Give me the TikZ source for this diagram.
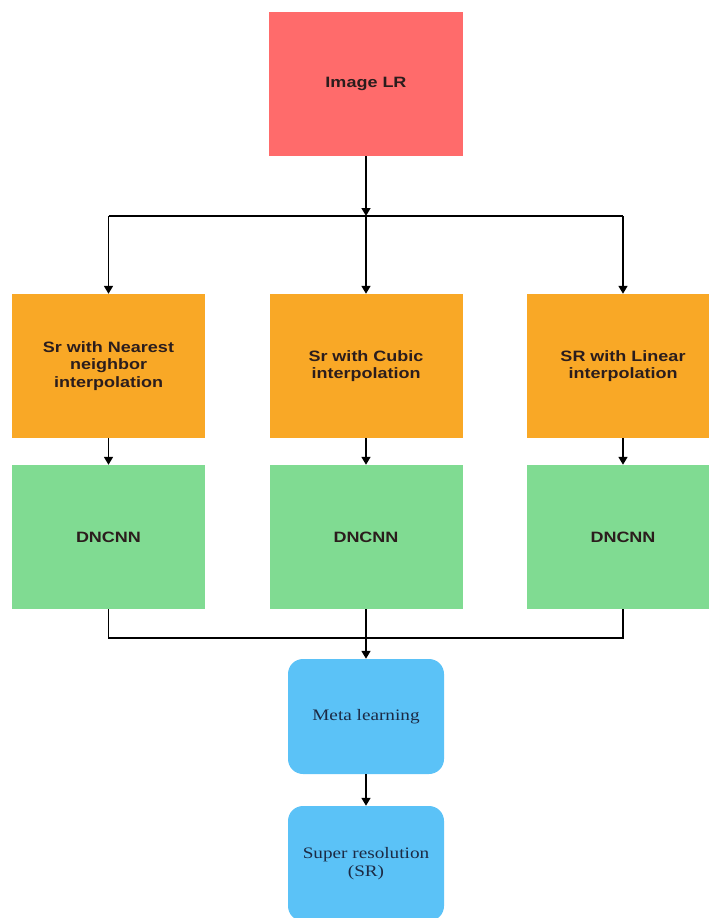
\documentclass[tikz,border=0pt]{standalone}
\usepackage{fontspec}
\setmainfont{Liberation Serif}[FakeStretch=1.2]
\newfontfamily\boxfont{Liberation Sans}[FakeStretch=1.2]
\usetikzlibrary{arrows.meta}

\definecolor{lrred}{HTML}{FF6B6B}
\definecolor{interporange}{HTML}{F9A826}
\definecolor{dngreen}{HTML}{80DB92}
\definecolor{metablue}{HTML}{5BC2F7}
\definecolor{boxtext}{HTML}{2B1D1D}
\definecolor{serftext}{HTML}{1C2A44}

\begin{document}
\begin{tikzpicture}[x=1pt,y=-1pt,
  box/.style={minimum width=193pt, minimum height=144pt, inner sep=0pt, align=center,
    text=boxtext, font=\boxfont\bfseries\fontsize{15}{17.5}\selectfont},
  roundbox/.style={fill=metablue, rounded corners=15pt, minimum width=156pt, minimum height=115pt,
    inner sep=0pt, align=center, text=serftext, font=\fontsize{16}{17.5}\selectfont},
  arr/.style={line width=1.6pt, -{Triangle[length=8pt,width=9pt]}},
  wire/.style={line width=1.6pt}]
\useasboundingbox (0,0) rectangle (709,918);
\clip (0,0) rectangle (709,918);

\node[box, fill=lrred, minimum width=194pt] (lr) at (366,84) {Image LR};

\node[box, fill=interporange] (nn) at (108.5,366) {Sr with Nearest\\neighbor\\interpolation};
\node[box, fill=interporange] (cubic) at (366,366) {Sr with Cubic\\interpolation};
\node[box, fill=interporange] (linear) at (623,366) {SR with Linear\\interpolation};

\node[box, fill=dngreen] (dn1) at (108.5,537) {DNCNN};
\node[box, fill=dngreen] (dn2) at (366,537) {DNCNN};
\node[box, fill=dngreen] (dn3) at (623,537) {DNCNN};

\node[roundbox] (meta) at (366,716.5) {Meta learning};
\node[roundbox] (sr) at (366,863.5) {Super resolution\\(SR)};

\coordinate (split) at (366,216);
\coordinate (merge) at (366,638);

% split to the three interpolations
\draw[arr] (lr) -- (split);
\draw[wire] (split -| nn) -- (split -| linear);
\draw[arr] (split -| nn) -- (nn);
\draw[arr] (split) -- (cubic);
\draw[arr] (split -| linear) -- (linear);

\draw[arr] (nn) -- (dn1);
\draw[arr] (cubic) -- (dn2);
\draw[arr] (linear) -- (dn3);

% merge into meta learning
\draw[wire] (dn1) -- (merge -| dn1) -- (merge -| dn3) -- (dn3);
\draw[arr] (dn2) -- (meta);
\draw[arr] (meta) -- (sr);

\end{tikzpicture}
\end{document}
